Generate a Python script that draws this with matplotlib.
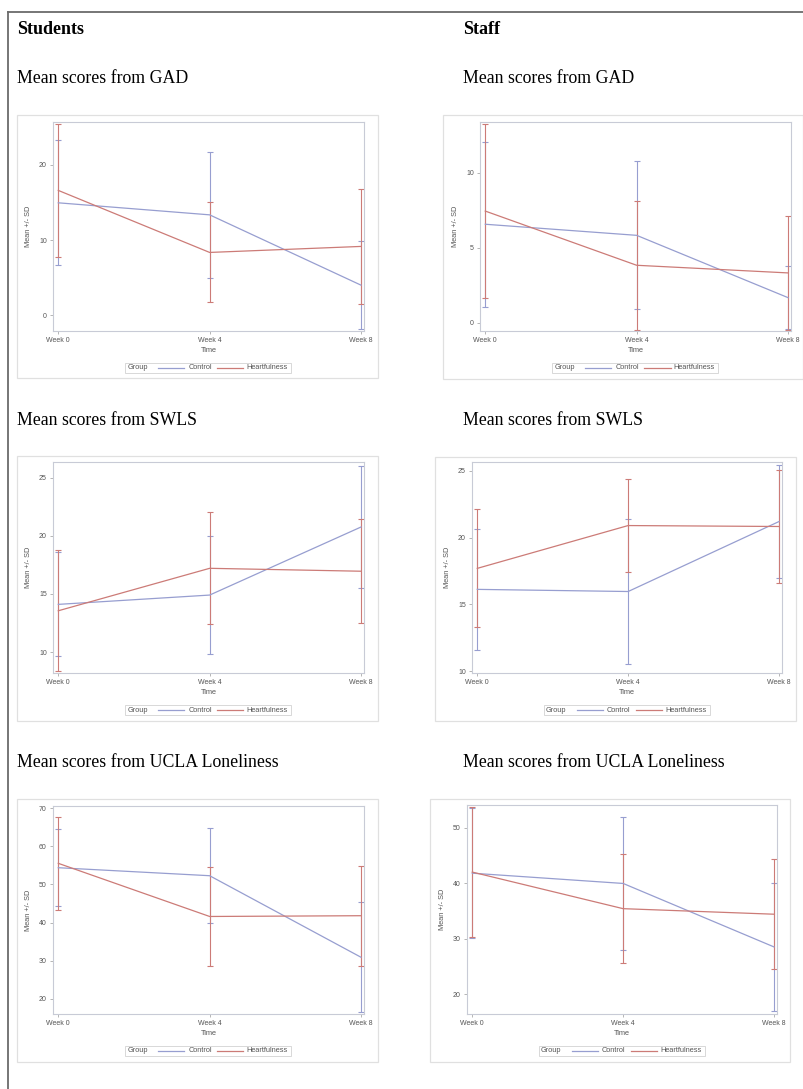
import numpy as np
import matplotlib
matplotlib.use("Agg")
import matplotlib.pyplot as plt
from matplotlib.patches import Rectangle
from matplotlib.lines import Line2D

# page size in pixels (saved at dpi=100)
W, H = 804, 1089

# --- data (mean and SD per time point) ---
weeks = ["Week 0", "Week 4", "Week 8"]
groups = ["Control", "Heartfulness"]

students_gad_control_mean = [14.95, 13.35, 4.0]
students_gad_control_sd = [8.3, 8.4, 5.9]
students_gad_heart_mean = [16.6, 8.35, 9.15]
students_gad_heart_sd = [8.9, 6.65, 7.65]

staff_gad_control_mean = [6.57, 5.83, 1.67]
staff_gad_control_sd = [5.5, 4.95, 2.1]
staff_gad_heart_mean = [7.45, 3.83, 3.32]
staff_gad_heart_sd = [5.8, 4.3, 3.8]

students_swls_control_mean = [14.1, 14.9, 20.75]
students_swls_control_sd = [4.47, 5.1, 5.25]
students_swls_heart_mean = [13.55, 17.2, 16.95]
students_swls_heart_sd = [5.2, 4.8, 4.45]

staff_swls_control_mean = [16.13, 15.97, 21.2]
staff_swls_control_sd = [4.53, 5.4, 4.2]
staff_swls_heart_mean = [17.7, 20.9, 20.83]
staff_swls_heart_sd = [4.4, 3.5, 4.2]

students_ucla_control_mean = [54.4, 52.3, 30.9]
students_ucla_control_sd = [10.1, 12.5, 14.4]
students_ucla_heart_mean = [55.55, 41.6, 41.8]
students_ucla_heart_sd = [12.25, 13.1, 13.1]

staff_ucla_control_mean = [41.8, 39.95, 28.5]
staff_ucla_control_sd = [11.7, 11.95, 11.6]
staff_ucla_heart_mean = [42.0, 35.4, 34.4]
staff_ucla_heart_sd = [11.7, 9.8, 9.9]

CONTROL_COLOR = "#979ed0"
HEART_COLOR = "#cc7b77"
TEXT_GRAY = "#555555"
SANS = "Liberation Sans"
SERIF = "Liberation Serif"


def fx(x):
    return x / W


def fy(y):
    return 1 - y / H


def px_rect(left, top, right, bottom):
    return [fx(left), fy(bottom), (right - left) / W, (bottom - top) / H]


fig = plt.figure(figsize=(W / 100, H / 100), dpi=100)
fig.patch.set_facecolor("white")

# page frame (top + left rule)
fig.add_artist(Line2D([fx(8), fx(804)], [fy(12), fy(12)], color="#6b6b6b", lw=1.3))
fig.add_artist(Line2D([fx(8), fx(8)], [fy(12), fy(1089)], color="#6b6b6b", lw=1.3))

# headings
fig.text(fx(17), fy(34), "Students", fontfamily=SERIF, fontweight="bold", fontsize=13, va="baseline")
fig.text(fx(463), fy(34), "Staff", fontfamily=SERIF, fontweight="bold", fontsize=13, va="baseline")

panels = [
    # (title, title xy, outer box, axes box, ylim, yticks, series)
    ("Mean scores from GAD", (17, 83), (17, 115, 378, 378), (53, 122, 364, 331), (-2.1, 25.7), [0, 10, 20],
     students_gad_control_mean, students_gad_control_sd, students_gad_heart_mean, students_gad_heart_sd),
    ("Mean scores from GAD", (463, 83), (443, 115, 803, 379), (480, 122, 791, 331), (-0.56, 13.4), [0, 5, 10],
     staff_gad_control_mean, staff_gad_control_sd, staff_gad_heart_mean, staff_gad_heart_sd),
    ("Mean scores from SWLS", (17, 425), (17, 456, 378, 721), (53, 462, 364, 673), (8.2, 26.34), [10, 15, 20, 25],
     students_swls_control_mean, students_swls_control_sd, students_swls_heart_mean, students_swls_heart_sd),
    ("Mean scores from SWLS", (463, 425), (435, 457, 796, 721), (472, 462, 782, 673), (9.88, 25.65), [10, 15, 20, 25],
     staff_swls_control_mean, staff_swls_control_sd, staff_swls_heart_mean, staff_swls_heart_sd),
    ("Mean scores from UCLA Loneliness", (17, 767), (17, 799, 378, 1062), (53, 806, 364, 1014), (16.0, 70.6),
     [20, 30, 40, 50, 60, 70],
     students_ucla_control_mean, students_ucla_control_sd, students_ucla_heart_mean, students_ucla_heart_sd),
    ("Mean scores from UCLA Loneliness", (463, 767), (430, 799, 790, 1062), (467, 805, 777, 1014), (16.4, 54.1),
     [20, 30, 40, 50],
     staff_ucla_control_mean, staff_ucla_control_sd, staff_ucla_heart_mean, staff_ucla_heart_sd),
]

x = np.arange(len(weeks))

for (title, (tx, ty), outer, box, ylim, yticks, c_mean, c_sd, h_mean, h_sd) in panels:
    fig.text(fx(tx), fy(ty), title, fontfamily=SERIF, fontsize=12.8, va="baseline")

    # light frame around the whole SAS graph
    ol, ot, orr, ob = outer
    fig.add_artist(Rectangle((fx(ol), fy(ob)), (orr - ol) / W, (ob - ot) / H,
                             transform=fig.transFigure, fill=False, edgecolor="#e0e0e0", lw=0.9))

    ax = fig.add_axes(px_rect(*box))
    ax.errorbar(x, c_mean, yerr=c_sd, fmt="none", ecolor=CONTROL_COLOR, elinewidth=0.8,
                capsize=2.5, capthick=0.8)
    ax.errorbar(x, h_mean, yerr=h_sd, fmt="none", ecolor=HEART_COLOR, elinewidth=0.8,
                capsize=2.5, capthick=0.8)
    ax.plot(x, c_mean, color=CONTROL_COLOR, lw=0.9)
    ax.plot(x, h_mean, color=HEART_COLOR, lw=0.9)

    ax.set_xlim(-0.035, 2.02)
    ax.set_ylim(*ylim)
    ax.set_xticks(x)
    ax.set_xticklabels(weeks)
    ax.set_yticks(yticks)
    for s in ax.spines.values():
        s.set_color("#c8cbd6")
        s.set_linewidth(0.8)
    ax.tick_params(direction="out", length=2.5, width=0.5, color="#999999", labelsize=5,
                   labelcolor=TEXT_GRAY, pad=2)
    for lab in ax.get_xticklabels() + ax.get_yticklabels():
        lab.set_fontfamily(SANS)

    ax.set_xlabel("Time", fontsize=5.3, color=TEXT_GRAY, fontfamily=SANS)
    ax.xaxis.set_label_coords(0.5, -0.078)
    ax.set_ylabel("Mean +/- SD", fontsize=5.3, color=TEXT_GRAY, fontfamily=SANS)
    ax.yaxis.set_label_coords(-0.068, 0.5)

    # SAS-style legend strip under the axes
    al, at, ar, ab = box
    cx = (al + ar) / 2
    lx = cx - 83
    ly = ab + 37
    fig.add_artist(Rectangle((fx(lx), fy(ly + 5)), 166 / W, 10 / H, transform=fig.transFigure,
                             fill=False, edgecolor="#d8d8d8", lw=0.7))
    fig.text(fx(lx + 2), fy(ly), "Group", fontsize=5.3, color=TEXT_GRAY, fontfamily=SANS, va="center")
    fig.add_artist(Line2D([fx(lx + 33), fx(lx + 59)], [fy(ly), fy(ly)], color=CONTROL_COLOR, lw=0.9))
    fig.text(fx(lx + 63), fy(ly), groups[0], fontsize=5.3, color=TEXT_GRAY, fontfamily=SANS, va="center")
    fig.add_artist(Line2D([fx(lx + 92), fx(lx + 118)], [fy(ly), fy(ly)], color=HEART_COLOR, lw=0.9))
    fig.text(fx(lx + 121), fy(ly), groups[1], fontsize=5.3, color=TEXT_GRAY, fontfamily=SANS, va="center")

fig.savefig("out.png", dpi=100)
